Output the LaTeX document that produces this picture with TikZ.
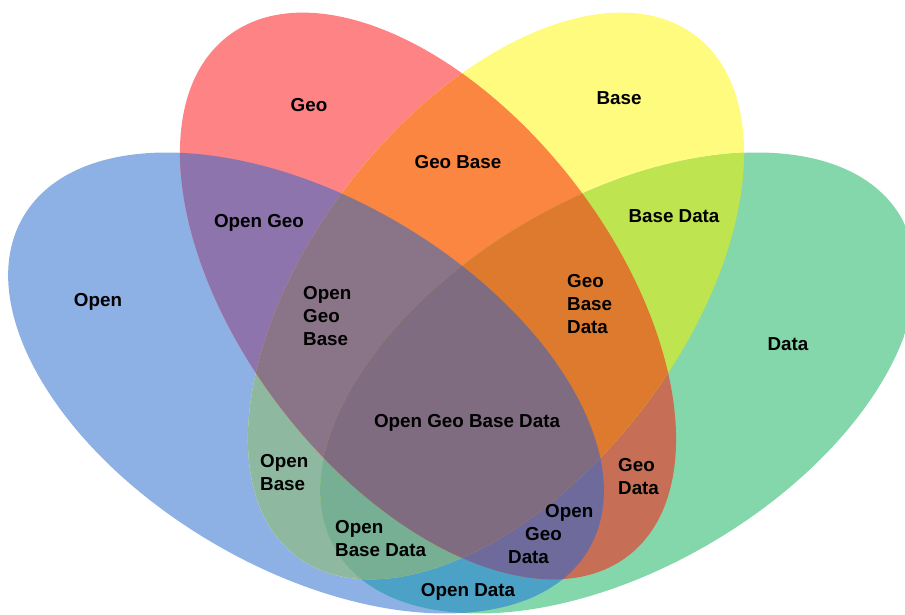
\documentclass[tikz,border=0pt]{standalone}
\usepackage{fontspec}
\setmainfont{Liberation Sans}
\definecolor{cO}{RGB}{141,177,229}
\definecolor{cG}{RGB}{253,131,132}
\definecolor{cB}{RGB}{254,251,126}
\definecolor{cD}{RGB}{132,215,170}
\definecolor{cOG}{RGB}{141,116,172}
\definecolor{cOB}{RGB}{142,184,160}
\definecolor{cOD}{RGB}{76,162,198}
\definecolor{cGB}{RGB}{250,134,66}
\definecolor{cGD}{RGB}{198,111,86}
\definecolor{cBD}{RGB}{190,228,80}
\definecolor{cOGB}{RGB}{138,116,136}
\definecolor{cOGD}{RGB}{110,106,155}
\definecolor{cOBD}{RGB}{118,175,148}
\definecolor{cGBD}{RGB}{222,122,45}
\definecolor{cOGBD}{RGB}{127,108,128}
\newcommand\clipO{\clip[rotate around={-30.5:(306,232)}] (306,232) ellipse [x radius=328, y radius=185];}
\newcommand\clipG{\clip[rotate around={-52.4:(428,319)}] (428,319) ellipse [x radius=328, y radius=185];}
\newcommand\clipB{\clip[rotate around={52.4:(496,319)}] (496,319) ellipse [x radius=328, y radius=185];}
\newcommand\clipD{\clip[rotate around={30.5:(618,232)}] (618,232) ellipse [x radius=328, y radius=185];}
\newcommand\fillall[1]{\fill[#1] (0,0) rectangle (905,615);}
\begin{document}
\begin{tikzpicture}[x=1pt,y=1pt,
  lbl/.style={font=\bfseries\fontsize{18.8}{23}\selectfont, inner sep=0pt, text=black},
  lbll/.style={lbl, align=left, anchor=west}]
\useasboundingbox (0,0) rectangle (905,615);
\clip (0,0) rectangle (905,615);
% single sets
\begin{scope}\clipO\fillall{cO}\end{scope}
\begin{scope}\clipG\fillall{cG}\end{scope}
\begin{scope}\clipB\fillall{cB}\end{scope}
\begin{scope}\clipD\fillall{cD}\end{scope}
% pairs
\begin{scope}\clipO\clipG\fillall{cOG}\end{scope}
\begin{scope}\clipO\clipB\fillall{cOB}\end{scope}
\begin{scope}\clipO\clipD\fillall{cOD}\end{scope}
\begin{scope}\clipG\clipB\fillall{cGB}\end{scope}
\begin{scope}\clipG\clipD\fillall{cGD}\end{scope}
\begin{scope}\clipB\clipD\fillall{cBD}\end{scope}
% triples
\begin{scope}\clipO\clipG\clipB\fillall{cOGB}\end{scope}
\begin{scope}\clipO\clipG\clipD\fillall{cOGD}\end{scope}
\begin{scope}\clipO\clipB\clipD\fillall{cOBD}\end{scope}
\begin{scope}\clipG\clipB\clipD\fillall{cGBD}\end{scope}
% all four
\begin{scope}\clipO\clipG\clipB\clipD\fillall{cOGBD}\end{scope}
% labels
\node[lbl] (geo) at (309,510) {Geo};
\node[lbl] (base) at (619,517) {Base};
\node[lbl] (geobase) at (458,453) {Geo Base};
\node[lbl] (opengeo) at (259,392) {Open Geo};
\node[lbl] (basedata) at (674,399) {Base Data};
\node[lbl] (open) at (98,313) {Open};
\node[lbl] (data) at (788,271) {Data};
\node[lbll] (ogb) at (303,299) {Open\\Geo\\Base};
\node[lbll] (gbd) at (567,311) {Geo\\Base\\Data};
\node[lbl] (ogbd) at (467,192) {Open Geo Base Data};
\node[lbll] (ob) at (260,142.5) {Open\\Base};
\node[lbll] (gd) at (618,138.5) {Geo\\Data};
\node[lbll] (obd) at (335,76) {Open\\Base Data};
\node[lbll] (ogd) at (508,80.5) {\hspace*{37pt}Open\\\hspace*{17pt}Geo\\Data};
\node[lbl] (od) at (468,23) {Open Data};
\end{tikzpicture}
\end{document}
